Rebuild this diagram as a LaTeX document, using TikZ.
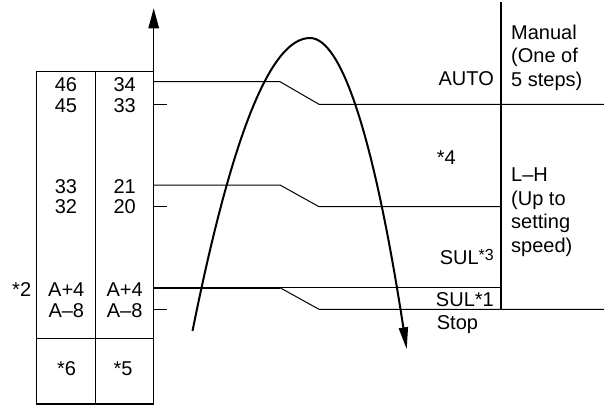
\documentclass[tikz,border=0pt]{standalone}
\usepackage{fontspec}
\setmainfont{Liberation Sans}
\usetikzlibrary{arrows.meta}
\begin{document}
\begin{tikzpicture}[x=1pt,y=-1pt,
  thinline/.style={line width=1pt},
  frame/.style={line width=1.4pt},
  lbl/.style={inner sep=0pt, anchor=base, font=\fontsize{20}{20}\selectfont},
  lblr/.style={lbl, anchor=base east},
  lbll/.style={lbl, anchor=base west}]
\useasboundingbox (0,0) rectangle (604,405);
% table
\draw[frame] (36.7,71.7) rectangle (153.7,404);
\draw[frame] (95.7,71.7) -- (95.7,404);
\draw[frame] (36.7,338.3) -- (153.7,338.3);
% axis
\coordinate (ax0) at (153.7,71.7);
\coordinate (axtip) at (153.7,8.3);
\draw[frame,-{Triangle[length=20pt,width=10.5pt]}] (ax0) -- (axtip);
% level lines
\draw[thinline] (153.7,81.7) -- (280,81.7) -- (319,104.3) -- (604,104.3);
\draw[thinline] (153.7,104.3) -- (166.7,104.3);
\draw[thinline] (153.7,185) -- (280,185) -- (319,206.7) -- (501,206.7);
\draw[thinline] (153.7,206.7) -- (166.7,206.7);
\draw[line width=1.8pt] (153.7,287.7) -- (280,287.7);
\draw[thinline] (280,287.7) -- (501,287.7);
\draw[thinline] (280,287.7) -- (319,309.3) -- (604,309.3);
\draw[thinline] (153.7,309.3) -- (166.7,309.3);
\draw[line width=1.2pt] (501,2) -- (501,309.3);
% curve
\draw[line width=2pt,-{Triangle[length=22pt,width=9pt]}] (192.5,331) .. controls (231.8,135) and (270.7,38) .. (310,38) .. controls (342.3,38) and (374.7,141.3) .. (406.7,349.3);
% table texts
\node[lbl] (c1a) at (66,91.7) {46};
\node[lbl] (c1b) at (66,112.3) {45};
\node[lbl] (c2a) at (124.7,91.7) {34};
\node[lbl] (c2b) at (124.7,112.3) {33};
\node[lbl] (c1c) at (66,193.3) {33};
\node[lbl] (c1d) at (66,213.5) {32};
\node[lbl] (c2c) at (124.7,193.3) {21};
\node[lbl] (c2d) at (124.7,213.5) {20};
\node[lbl] (c1e) at (66.3,296) {A+4};
\node[lbl] (c1f) at (66.3,317.3) {A–8};
\node[lbl] (c2e) at (124.7,296) {A+4};
\node[lbl] (c2f) at (124.7,317.3) {A–8};
\node[lbl] (n6) at (66.5,375) {*6};
\node[lbl] (n5) at (123,375) {*5};
\node[lbl] (n2) at (21.7,296) {*2};
% right texts
\node[lblr] (auto) at (494,85.7) {AUTO};
\node[lbll] (man1) at (511,39.3) {Manual};
\node[lbll] (man2) at (511,62.8) {(One of};
\node[lbll] (man3) at (511,86.3) {5 steps)};
\node[lbll] (s4) at (436.7,164) {*4};
\node[lbll] (lh1) at (511,181.7) {L–H};
\node[lbll] (lh2) at (511,205.2) {(Up to};
\node[lbll] (lh3) at (511,228.7) {setting};
\node[lbll] (lh4) at (511,252.2) {speed)};
\node[lblr] (sul3) at (494,264) {SUL\raisebox{4pt}{\fontsize{16}{16}\selectfont *3}};
\node[lblr] (sul1) at (494,306) {SUL*1};
\node[lbll] (stop) at (436.7,329.3) {Stop};
\end{tikzpicture}
\end{document}
